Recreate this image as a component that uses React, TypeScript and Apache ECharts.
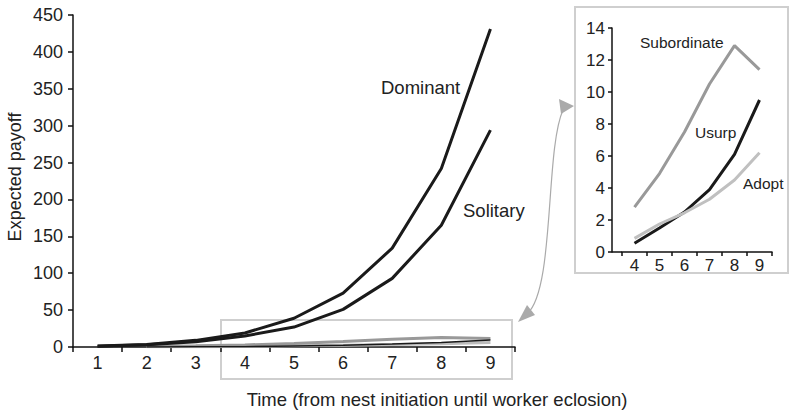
import React, { useEffect, useRef } from "react";
import * as echarts from "echarts";

const mainCategories = ["1", "2", "3", "4", "5", "6", "7", "8", "9"];
const dominant = [1.5, 3.5, 9, 19, 39, 73, 134, 242, 431];
const solitary = [1, 3, 7, 15, 27, 51, 93, 165, 294];
const subordinateMain = [null, 0.8, 1.6, 2.8, 4.9, 7.5, 10.5, 12.9, 11.4];
const usurpMain = [null, 0.1, 0.3, 0.5, 1.5, 2.5, 3.9, 6.1, 9.5];
const adoptMain = [null, 0.3, 0.5, 0.8, 1.7, 2.5, 3.3, 4.5, 6.2];

const insetCategories = ["4", "5", "6", "7", "8", "9"];
const subordinate = [2.8, 4.9, 7.5, 10.5, 12.9, 11.4];
const usurp = [0.55, 1.5, 2.5, 3.9, 6.1, 9.5];
const adopt = [0.85, 1.75, 2.45, 3.3, 4.5, 6.2];

const mainTicks = { min: 0, max: 450, interval: 50 };
const insetTicks = { min: 0, max: 14, interval: 2 };

const FONT = "'Liberation Sans', Arial, sans-serif";
const TXT = "#222";

export default function App() {
  const ref = useRef<HTMLDivElement>(null);
  useEffect(() => {
    if (!ref.current) return;
    const chart = echarts.init(ref.current, null, { renderer: "svg" });
    const axisLineStyle = { color: "#111", width: 1.5 };
    const option: any = {
      animation: false,
      backgroundColor: "#fff",
      textStyle: { fontFamily: FONT },
      grid: [
        { left: 73, right: 274, top: 15, bottom: 66 },
        { left: 622, right: 17, top: 28, bottom: 161 },
      ],
      xAxis: [
        {
          type: "category",
          gridIndex: 0,
          data: mainCategories,
          boundaryGap: true,
          axisLine: { lineStyle: axisLineStyle },
          axisTick: { show: true, length: 5, lineStyle: { color: "#111", width: 1.5 } },
          axisLabel: { color: TXT, fontSize: 18, margin: 7, fontFamily: FONT },
          splitLine: { show: false },
        },
        {
          type: "category",
          gridIndex: 1,
          data: insetCategories,
          boundaryGap: true,
          axisLine: { lineStyle: axisLineStyle },
          axisTick: { show: true, length: 4, lineStyle: { color: "#111", width: 1.5 } },
          axisLabel: { color: TXT, fontSize: 17, margin: 5, fontFamily: FONT },
          splitLine: { show: false },
        },
      ],
      yAxis: [
        {
          type: "value",
          gridIndex: 0,
          ...mainTicks,
          axisLine: { show: true, lineStyle: axisLineStyle },
          axisTick: { show: true, length: 5, lineStyle: { color: "#111", width: 1.5 } },
          axisLabel: { color: TXT, fontSize: 18, margin: 10, fontFamily: FONT },
          splitLine: { show: false },
        },
        {
          type: "value",
          gridIndex: 1,
          ...insetTicks,
          offset: 10,
          axisLine: { show: true, lineStyle: axisLineStyle },
          axisTick: { show: true, length: 4, lineStyle: { color: "#111", width: 1.5 } },
          axisLabel: { color: TXT, fontSize: 17, margin: 7, fontFamily: FONT },
          splitLine: { show: false },
        },
      ],
      series: [
        { name: "Adopt", type: "line", xAxisIndex: 0, yAxisIndex: 0, data: adoptMain, symbol: "none", lineStyle: { color: "#bdbdbd", width: 3 } },
        { name: "Subordinate", type: "line", xAxisIndex: 0, yAxisIndex: 0, data: subordinateMain, symbol: "none", lineStyle: { color: "#999", width: 3 } },
        { name: "Usurp", type: "line", xAxisIndex: 0, yAxisIndex: 0, data: usurpMain, symbol: "none", lineStyle: { color: "#1a1a1a", width: 1.5 } },
        { name: "Solitary", type: "line", xAxisIndex: 0, yAxisIndex: 0, data: solitary, symbol: "none", lineStyle: { color: "#1a1a1a", width: 3 } },
        { name: "Dominant", type: "line", xAxisIndex: 0, yAxisIndex: 0, data: dominant, symbol: "none", lineStyle: { color: "#1a1a1a", width: 3 } },
        { name: "Subordinate inset", type: "line", xAxisIndex: 1, yAxisIndex: 1, data: subordinate, symbol: "none", lineStyle: { color: "#999", width: 3 } },
        { name: "Usurp inset", type: "line", xAxisIndex: 1, yAxisIndex: 1, data: usurp, symbol: "none", lineStyle: { color: "#1a1a1a", width: 3 } },
        { name: "Adopt inset", type: "line", xAxisIndex: 1, yAxisIndex: 1, data: adopt, symbol: "none", lineStyle: { color: "#c0c0c0", width: 3 } },
      ],
      graphic: [
        { type: "rect", shape: { x: 575, y: 7, width: 213, height: 266 }, style: { fill: "none", stroke: "#cfcfcf", lineWidth: 2 }, z: 0 },
        { type: "rect", shape: { x: 221, y: 320, width: 291, height: 59 }, style: { fill: "none", stroke: "#cfcfcf", lineWidth: 2 }, z: 0 },
        { type: "line", shape: { x1: 612, y1: 252, x2: 622, y2: 252 }, style: { stroke: "#111", lineWidth: 1.5 } },
        { type: "bezierCurve", shape: { x1: 563, y1: 110, cpx1: 545, cpy1: 150, cpx2: 555, cpy2: 290, x2: 527, y2: 314 }, style: { fill: "none", stroke: "#aaa", lineWidth: 1.2 } },
        { type: "polygon", shape: { points: [[574, 106], [559, 99], [561, 114]] }, style: { fill: "#aaa" } },
        { type: "polygon", shape: { points: [[518, 322], [527, 305], [535, 315]] }, style: { fill: "#aaa" } },
        { type: "text", x: 381, y: 87, style: { text: "Dominant", fill: TXT, font: `18.5px ${FONT}`, textVerticalAlign: "middle" } },
        { type: "text", x: 463, y: 210, style: { text: "Solitary", fill: TXT, font: `18.5px ${FONT}`, textVerticalAlign: "middle" } },
        { type: "text", x: 640, y: 42, style: { text: "Subordinate", fill: TXT, font: `15.5px ${FONT}`, textVerticalAlign: "middle" } },
        { type: "text", x: 695, y: 132, style: { text: "Usurp", fill: TXT, font: `15.5px ${FONT}`, textVerticalAlign: "middle" } },
        { type: "text", x: 743, y: 183, style: { text: "Adopt", fill: TXT, font: `15.5px ${FONT}`, textVerticalAlign: "middle" } },
        { type: "text", x: 15, y: 177, rotation: Math.PI / 2, style: { text: "Expected payoff", fill: TXT, font: `18px ${FONT}`, textAlign: "center", textVerticalAlign: "middle" } },
        { type: "text", x: 437, y: 399, style: { text: "Time (from nest initiation until worker eclosion)", fill: TXT, font: `18.5px ${FONT}`, textAlign: "center", textVerticalAlign: "middle" } },
      ],
    };
    chart.setOption(option);
    return () => chart.dispose();
  }, []);
  return <div ref={ref} style={{ position: "fixed", left: 0, top: 0, width: 789, height: 413 }} />;
}
